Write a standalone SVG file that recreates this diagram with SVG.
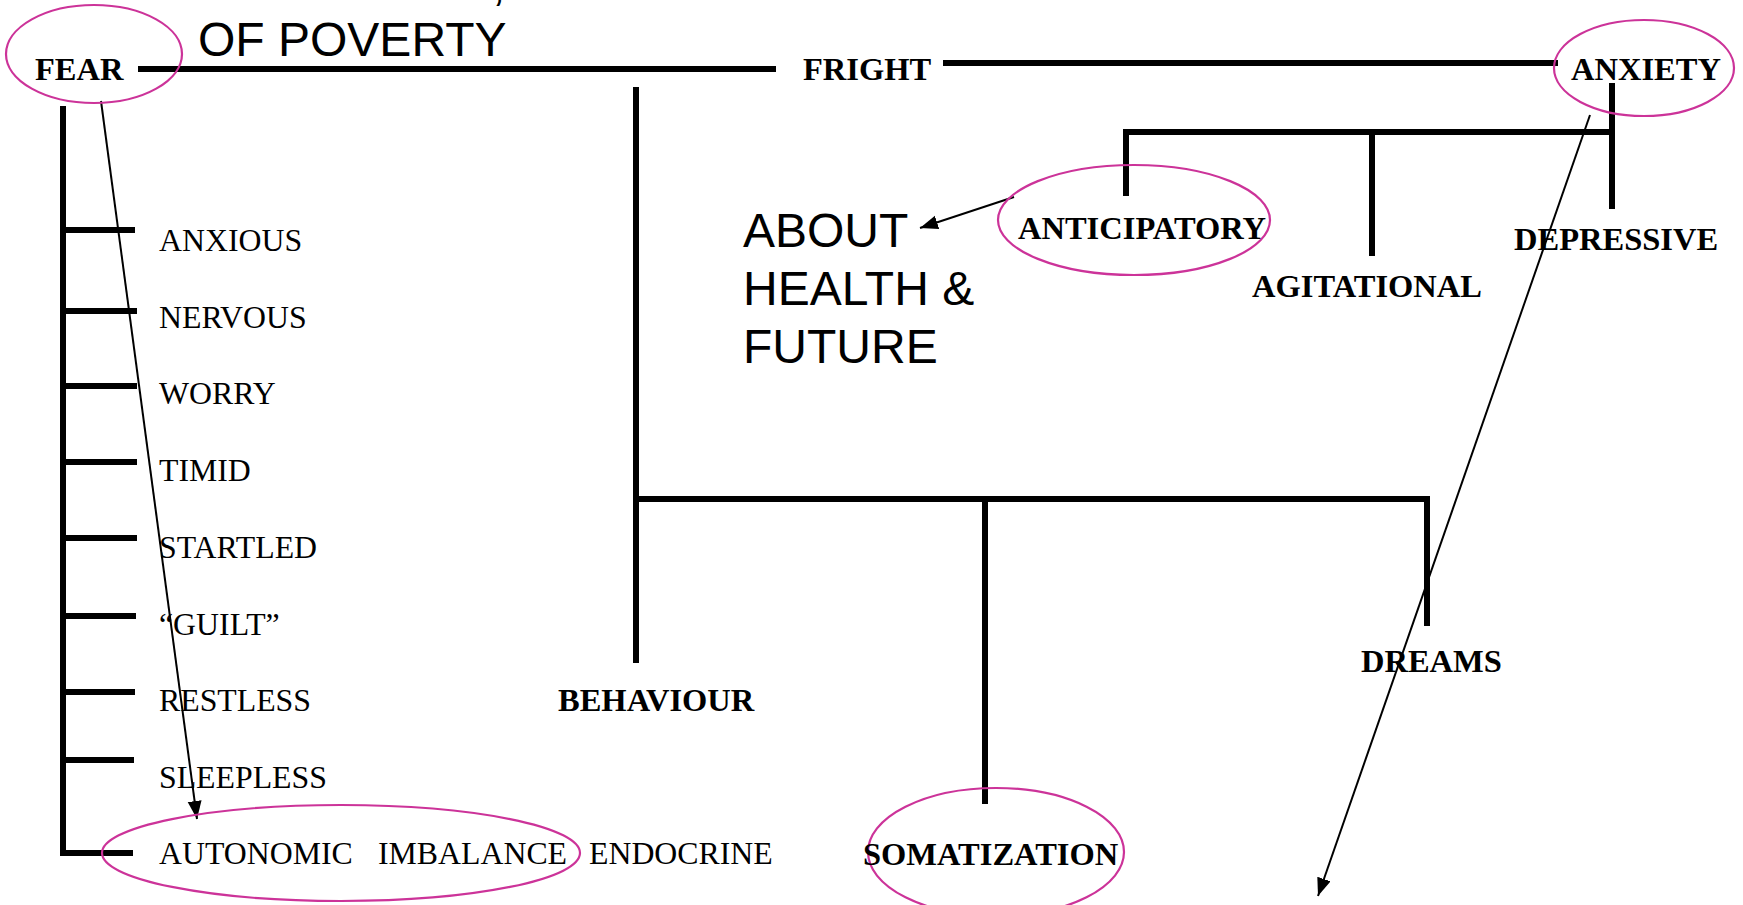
<svg xmlns="http://www.w3.org/2000/svg" width="1743" height="905" viewBox="0 0 1743 905">
<defs>
<style>
.bold{font-family:"Liberation Serif","Times New Roman",serif;font-weight:bold;font-size:32.5px;fill:#000}
.reg{font-family:"Liberation Serif","Times New Roman",serif;font-size:31.8px;fill:#000}
.sans{font-family:"Liberation Sans",Arial,sans-serif;font-size:48px;fill:#000}
.thick{stroke:#000;stroke-width:6;fill:none}
.thin{stroke:#000;stroke-width:2;fill:none}
.ring{stroke:#CC3399;stroke-width:2.2;fill:none}
</style>
<marker id="ah" markerUnits="userSpaceOnUse" markerWidth="20" markerHeight="16" refX="18" refY="7" orient="auto">
<path d="M0,0 L18,7 L0,14 Z" fill="#000"/>
</marker>
</defs>
<rect width="1743" height="905" fill="#fff"/>

<g id="connectors">
<line class="thick" x1="138" y1="69" x2="776" y2="69"/>
<line class="thick" x1="943" y1="63" x2="1558" y2="63"/>
<line class="thick" x1="63" y1="106" x2="63" y2="856"/>
<line class="thick" x1="60" y1="230" x2="135" y2="230"/>
<line class="thick" x1="60" y1="311" x2="137" y2="311"/>
<line class="thick" x1="60" y1="386" x2="137" y2="386"/>
<line class="thick" x1="60" y1="462" x2="137" y2="462"/>
<line class="thick" x1="60" y1="538" x2="137" y2="538"/>
<line class="thick" x1="60" y1="616" x2="136" y2="616"/>
<line class="thick" x1="60" y1="692" x2="135" y2="692"/>
<line class="thick" x1="60" y1="760" x2="134" y2="760"/>
<line class="thick" x1="60" y1="853" x2="133" y2="853"/>
<line class="thin" x1="101" y1="101" x2="197" y2="819" marker-end="url(#ah)"/>
<line class="thick" x1="636" y1="87" x2="636" y2="663"/>
<polyline class="thick" points="636,499 1427,499 1427,626"/>
<line class="thick" x1="985" y1="499" x2="985" y2="804"/>
<polyline class="thick" points="1126,196 1126,132 1612,132"/>
<line class="thick" x1="1612" y1="83" x2="1612" y2="209"/>
<line class="thick" x1="1372" y1="130" x2="1372" y2="256"/>
<line class="thin" x1="1014" y1="197" x2="920" y2="228" marker-end="url(#ah)"/>
<line class="thin" x1="1590" y1="115" x2="1318" y2="896" marker-end="url(#ah)"/>
</g>

<g id="fear"><ellipse class="ring" cx="94" cy="54" rx="88" ry="49"/><text class="bold" x="35" y="80">FEAR</text></g>
<g id="poverty"><text class="sans" x="492" y="0">,</text><text class="sans" x="198" y="56">OF POVERTY</text></g>
<g id="fright"><text class="bold" x="803" y="80">FRIGHT</text></g>
<g id="anxiety"><ellipse class="ring" cx="1644" cy="68" rx="90" ry="48"/><text class="bold" x="1571" y="80">ANXIETY</text></g>
<g id="anticipatory"><ellipse class="ring" cx="1134" cy="220" rx="136" ry="55"/><text class="bold" x="1018" y="239">ANTICIPATORY</text></g>
<g id="agitational"><text class="bold" x="1252" y="297">AGITATIONAL</text></g>
<g id="depressive"><text class="bold" x="1514" y="250">DEPRESSIVE</text></g>
<g id="about"><text class="sans" x="743" y="247">ABOUT</text><text class="sans" x="743" y="305">HEALTH &amp;</text><text class="sans" x="743" y="363">FUTURE</text></g>
<g id="behaviour"><text class="bold" x="558" y="711">BEHAVIOUR</text></g>
<g id="dreams"><text class="bold" x="1361" y="672">DREAMS</text></g>
<g id="somatization"><ellipse class="ring" cx="996" cy="852" rx="128" ry="64"/><text class="bold" x="863" y="865">SOMATIZATION</text></g>
<g id="list">
<text class="reg" x="159" y="251">ANXIOUS</text>
<text class="reg" x="159" y="328">NERVOUS</text>
<text class="reg" x="159" y="404">WORRY</text>
<text class="reg" x="159" y="481">TIMID</text>
<text class="reg" x="159" y="558">STARTLED</text>
<text class="reg" x="159" y="635">“GUILT”</text>
<text class="reg" x="159" y="711">RESTLESS</text>
<text class="reg" x="159" y="788">SLEEPLESS</text>
</g>
<g id="autonomic"><ellipse class="ring" cx="341" cy="853" rx="239" ry="48"/><text class="reg" x="159" y="864">AUTONOMIC</text><text class="reg" x="378" y="864">IMBALANCE</text></g>
<g id="endocrine"><text class="reg" x="589" y="864">ENDOCRINE</text></g>
</svg>
